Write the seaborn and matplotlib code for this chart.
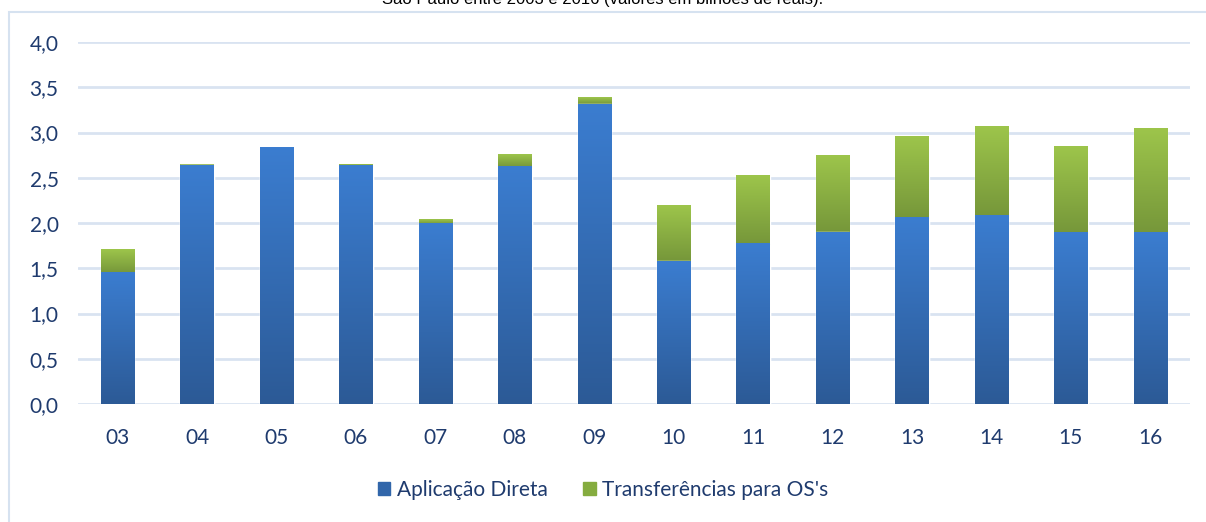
import numpy as np
import seaborn as sns
import matplotlib.pyplot as plt
from matplotlib.patches import Rectangle
from matplotlib.colors import LinearSegmentedColormap

sns.set_theme(style="white")
plt.rcParams['font.family'] = ['Lato', 'DejaVu Sans']

anos = ['03', '04', '05', '06', '07', '08', '09', '10', '11', '12', '13', '14', '15', '16']
aplicacao = [1.45, 2.64, 2.83, 2.63, 1.99, 2.62, 3.31, 1.58, 1.77, 1.90, 2.06, 2.08, 1.89, 1.89]
transferencias = [0.26, 0.01, 0.00, 0.02, 0.05, 0.14, 0.07, 0.61, 0.76, 0.85, 0.90, 0.99, 0.96, 1.15]
yticks = [0.0, 0.5, 1.0, 1.5, 2.0, 2.5, 3.0, 3.5, 4.0]
legenda = ['Aplicação Direta', "Transferências para OS's"]
titulo = 'São Paulo entre 2003 e 2016 (valores em bilhões de reais).'

azul = '#3671BC'
verde = '#8DB446'
cor_texto = '#1F3B6E'
cor_grade = '#D9E3F1'

totais = [a + t for a, t in zip(aplicacao, transferencias)]

fig = plt.figure(figsize=(12.06, 5.22), dpi=100)
# moldura do gráfico (cortada à direita e embaixo)
fig.patches.append(Rectangle((9 / 1206, -0.1), 1.2, 1 - 12 / 522 + 0.1, transform=fig.transFigure,
                             fill=False, edgecolor='#D6E2F0', linewidth=1.5, zorder=0))
# título cortado no topo, como na imagem original
fig.text(0.5, 1 - 4 / 522, titulo, ha='center', va='baseline', fontsize=12,
         family='Liberation Sans', color='black')

ax = fig.add_axes([78 / 1206, 118 / 522, 1112 / 1206, 362 / 522])
ax.set_facecolor('none')

sns.barplot(x=anos, y=totais, color=verde, saturation=1, width=0.42, ax=ax, zorder=2)
sns.barplot(x=anos, y=aplicacao, color=azul, saturation=1, width=0.42, ax=ax, zorder=3)

# degradê vertical dentro de cada segmento
grad = np.linspace(0, 1, 256).reshape(-1, 1)
cmap_azul = LinearSegmentedColormap.from_list('azul', ['#2C5A96', '#3B7DD0'])
cmap_verde = LinearSegmentedColormap.from_list('verde', ['#76973A', '#9DC54B'])
n = len(anos)
patches = list(ax.patches)
for i, p in enumerate(patches[:n]):
    x, w = p.get_x(), p.get_width()
    base, topo = aplicacao[i], totais[i]
    if topo - base > 0.001:
        ax.imshow(grad, cmap=cmap_verde, origin='lower', aspect='auto',
                  extent=[x, x + w, base, topo], zorder=2.5, interpolation='bilinear')
for i, p in enumerate(patches[n:]):
    x, w = p.get_x(), p.get_width()
    ax.imshow(grad, cmap=cmap_azul, origin='lower', aspect='auto',
              extent=[x, x + w, 0, aplicacao[i]], zorder=3.5, interpolation='bilinear')

ax.set_xlim(-0.5, n - 0.5)
ax.set_ylim(0, 4.0)
ax.set_yticks(yticks)
ax.set_yticklabels([f'{v:.1f}'.replace('.', ',') for v in yticks])
ax.yaxis.grid(True, color=cor_grade, linewidth=2)
ax.set_axisbelow(True)
for s in ax.spines.values():
    s.set_visible(False)
ax.tick_params(axis='both', length=0, labelsize=15, labelcolor=cor_texto)
ax.tick_params(axis='y', pad=14)
ax.tick_params(axis='x', pad=17)

handles = [Rectangle((0, 0), 1, 1, color='#3166AA'), Rectangle((0, 0), 1, 1, color='#85AC3F')]
leg = fig.legend(handles, legenda, loc='center', bbox_to_anchor=(0.5, 1 - 490 / 522), ncol=2,
                 frameon=False, fontsize=15, handlelength=0.6, handleheight=0.6,
                 handletextpad=0.3, columnspacing=1.7)
for t in leg.get_texts():
    t.set_color(cor_texto)

fig.savefig('out.png', dpi=100)
